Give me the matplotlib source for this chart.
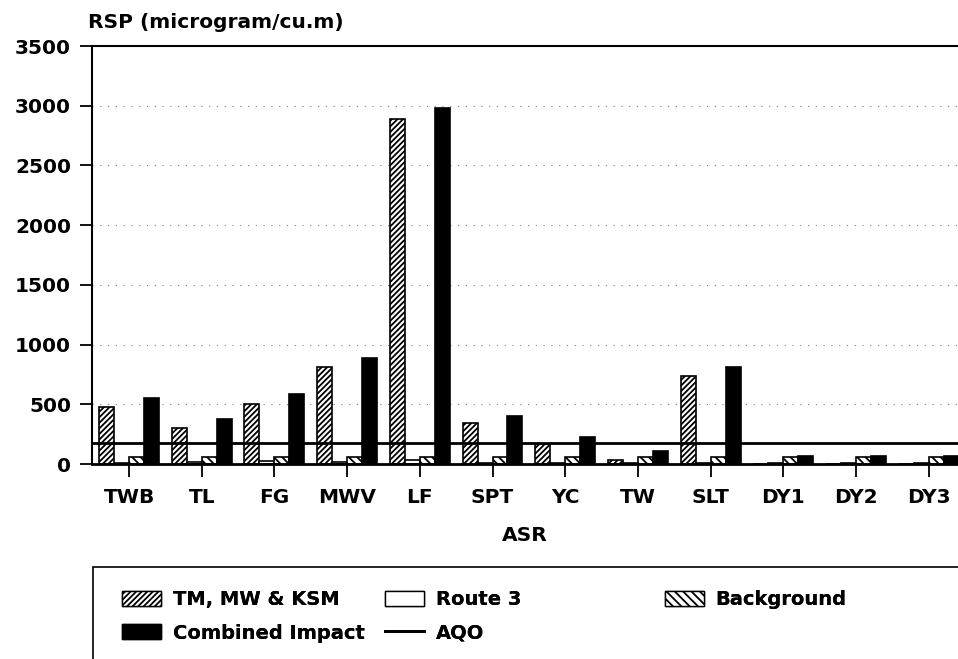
import numpy as np
import matplotlib
matplotlib.use("Agg")
import matplotlib.pyplot as plt
from matplotlib.patches import Patch, Rectangle
from matplotlib.lines import Line2D

plt.rcParams['font.family'] = ['DejaVu Sans']
plt.rcParams['font.weight'] = 'bold'
plt.rcParams['hatch.linewidth'] = 1.3

# RSP concentrations (microgram/cu.m) per ASR
asr = ['TWB', 'TL', 'FG', 'MWV', 'LF', 'SPT', 'YC', 'TW', 'SLT', 'DY1', 'DY2', 'DY3']
tm_mw_ksm = [480, 300, 505, 810, 2890, 340, 165, 33, 740, 0, 0, 0]
route3 = [10, 20, 25, 20, 30, 5, 5, 10, 10, 10, 10, 10]
background = [60, 60, 60, 60, 60, 60, 60, 60, 60, 60, 60, 60]
combined = [550, 380, 590, 890, 2980, 405, 230, 108, 810, 70, 70, 70]
aqo = 180

W, H = 958, 659
fig = plt.figure(figsize=(W / 100, H / 100), dpi=100)
ax = fig.add_axes([92 / W, 1 - 464 / H, 1 - 92 / W, (464 - 46) / H])

x = np.arange(len(asr))
bw = 0.206
edge = dict(edgecolor='black', linewidth=1.2)
ax.bar(x - 1.5 * bw, tm_mw_ksm, bw, color='white', hatch='//////', zorder=2, **edge)
ax.bar(x - 0.5 * bw, route3, bw, color='white', zorder=2, **edge)
ax.bar(x + 0.5 * bw, background, bw, color='white', hatch='\\\\\\\\', zorder=2, **edge)
ax.bar(x + 1.5 * bw, combined, bw, color='black', zorder=2, **edge)
ax.axhline(aqo, color='black', linewidth=2.0, zorder=3)

ax.set_xlim(-0.509, 11.403)
ax.set_ylim(0, 3500)
ax.set_yticks(np.arange(0, 3501, 500))
ax.set_xticks(x)
ax.set_xticklabels(asr)
ax.tick_params(axis='both', direction='out', length=9, width=1.3, labelsize=14.5)
ax.tick_params(axis='y', pad=6)
ax.tick_params(axis='x', pad=8)
for gy in range(500, 3001, 500):
    ax.axhline(gy, color='0.5', linewidth=0.8, linestyle=(0, (1, 6)), zorder=1)

ax.spines['right'].set_visible(False)
ax.spines['left'].set_linewidth(1.5)
ax.spines['bottom'].set_linewidth(2.0)
ax.spines['top'].set_linewidth(1.5)

ax.set_xlabel('ASR', fontsize=14.5, fontweight='bold', labelpad=14)
fig.text(88 / W, 1 - 28 / H, 'RSP (microgram/cu.m)', fontsize=14.5, fontweight='bold',
         ha='left', va='baseline')

# legend frame and entries
fig.add_artist(Rectangle((93 / W, -0.1), 1, 0.1 + 1 - 567 / H, transform=fig.transFigure,
                         fill=False, edgecolor='black', linewidth=1.2))

h_tm = Patch(facecolor='white', edgecolor='black', hatch='//////', label='TM, MW & KSM')
h_comb = Patch(facecolor='black', edgecolor='black', label='Combined Impact')
h_r3 = Patch(facecolor='white', edgecolor='black', label='Route 3')
h_aqo = Line2D([], [], color='black', linewidth=2.0, label='AQO')
h_bg = Patch(facecolor='white', edgecolor='black', hatch='\\\\\\\\', label='Background')

leg_kw = dict(loc='upper left', frameon=False, fontsize=14, borderpad=0, borderaxespad=0,
              handlelength=2.0, handleheight=0.8, handletextpad=0.6, labelspacing=0.75)
for hs, xpx in [([h_tm, h_comb], 122), ([h_r3, h_aqo], 385), ([h_bg], 665)]:
    lg = fig.legend(handles=hs, bbox_to_anchor=(xpx / W, 1 - 590 / H), **leg_kw)
    fig.add_artist(lg)

fig.savefig('out.png', dpi=100)
